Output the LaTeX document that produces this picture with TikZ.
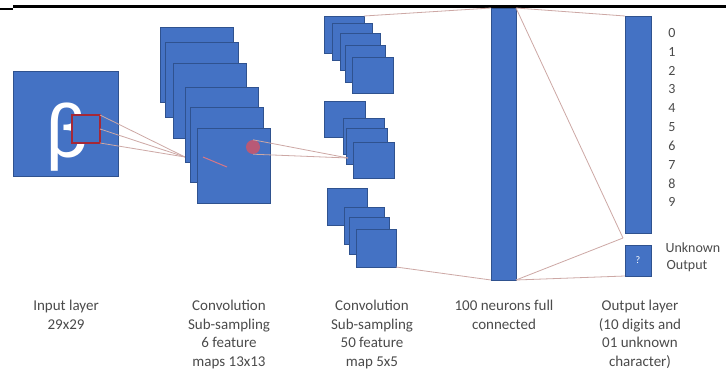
\documentclass[tikz,border=0pt]{standalone}
\usepackage{fontspec}
\setmainfont{Carlito}
\definecolor{mapblue}{RGB}{68,114,196}
\definecolor{mapedge}{RGB}{47,82,143}
\definecolor{fieldred}{RGB}{165,40,55}
\definecolor{dotred}{RGB}{205,85,105}
\definecolor{linkpink}{RGB}{205,168,165}
\definecolor{captext}{RGB}{75,75,75}
\tikzset{
  fmap/.style={draw=mapedge, fill=mapblue, line width=1pt, inner sep=0pt, outer sep=0pt, anchor=north west},
  link/.style={draw=linkpink, line width=0.8pt},
  caption/.style={font=\fontsize{15}{18.5}\selectfont, align=center, anchor=north, text=captext},
  digit/.style={font=\fontsize{14}{14}\selectfont, text=captext},
}

\begin{document}
\begin{tikzpicture}[x=1pt,y=-1pt]
    \clip (0,0) rectangle (726,370);
    \fill[white] (0,0) rectangle (726,370);

    % top rule
    \draw[line width=3pt] (13,6.5) -- (726,6.5);
    \draw[line width=1.5pt] (0,9) -- (13,9);

    % second convolution layer, three stacks
    \node[fmap, minimum width=40pt, minimum height=37pt] (l2a1) at (324,16) {};
    \node[fmap, minimum width=40pt, minimum height=37pt] (l2a2) at (332,23) {};
    \node[fmap, minimum width=40pt, minimum height=37pt] (l2a3) at (340,33) {};
    \node[fmap, minimum width=40pt, minimum height=37pt] (l2a4) at (345,45) {};
    \node[fmap, minimum width=41pt, minimum height=36pt] (l2a5) at (352,57) {};

    \node[fmap, minimum width=41pt, minimum height=36pt] (l2b1) at (324,101) {};
    \node[fmap, minimum width=41pt, minimum height=36pt] (l2b2) at (343,118) {};
    \node[fmap, minimum width=41pt, minimum height=36pt] (l2b3) at (346,128) {};
    \node[fmap, minimum width=41pt, minimum height=36pt] (l2b4) at (353,142) {};

    \node[fmap, minimum width=40pt, minimum height=37pt] (l2c1) at (327,188) {};
    \node[fmap, minimum width=40pt, minimum height=37pt] (l2c2) at (344,207) {};
    \node[fmap, minimum width=40pt, minimum height=37pt] (l2c3) at (349,217) {};
    \node[fmap, minimum width=40pt, minimum height=38pt] (l2c4) at (356,229) {};

    % full connected and output
    \node[fmap, minimum width=25pt, minimum height=272pt] (fc) at (491,8) {};
    \node[fmap, minimum width=26pt, minimum height=217pt] (out) at (625,16) {};
    \node[fmap, minimum width=26pt, minimum height=31pt, text=white,
          font=\fontsize{10}{10}\selectfont] (unk) at (625,245) {?};

    \coordinate (c1) at (185,157);
    \coordinate (c2) at (348,158);
    \coordinate (gap) at (623,238);

    \draw[link] (l2a1.north east) -- (fc.north west);
    \draw[link] (l2c4.south east) -- (fc.south west);
    \draw[link] (fc.north east) -- (out.north west);
    \draw[link] (fc.north east) -- (gap);
    \draw[link] (fc.south east) -- (gap);
    \draw[link] (fc.south east) -- (unk.south west);

    % input image and receptive field
    \node[fmap, minimum width=105pt, minimum height=105pt] (inp) at (13,71) {};
    \node[text=white, font=\fontsize{80}{80}\selectfont] (beta) at (67,137) {β};
    \node[fmap, draw=fieldred, line width=1.5pt, minimum width=28pt, minimum height=28pt] (field) at (72,115) {};
    \draw[link] (field.north east) -- (c1);
    \draw[link] (field.east) -- (c1);
    \draw[link] (field.south east) -- (c1);

    % first convolution layer
    \foreach \nm/\px/\py in {l1a/160/27, l1b/165/42, l1c/173/63, l1d/185/87, l1e/190/107, l1f/197/128}
        \node[fmap, minimum width=73pt, minimum height=75pt] (\nm) at (\px,\py) {};
    \draw[draw=dotred!80, line width=1pt] (203,157) -- (227,167);
    \node[circle, fill=dotred, opacity=0.85, minimum size=14pt, inner sep=0pt] (rdot) at (253,147) {};
    \draw[link] (rdot.north) -- (c2);
    \draw[link] (rdot.south) -- (c2);

    % digits and unknown output
    \foreach \d in {0,...,9}
        \node[digit] (dig\d) at (672,{33+18.8*\d}) {\d};
    \node[caption, font=\fontsize{14}{18.5}\selectfont, anchor=west] (unklab) at (662,248) {Unknown};
    \node[caption, font=\fontsize{14}{18.5}\selectfont] (outlab) at (687,257) {Output};

    % captions
    \node[caption] (capin) at (66,297) {Input layer\\29x29};
    \node[caption] (capc1) at (229,297) {Convolution\\Sub-sampling\\6 feature\\maps 13x13};
    \node[caption] (capc2) at (372,297) {Convolution\\Sub-sampling\\50 feature\\map 5x5};
    \node[caption] (capfc) at (504,297) {100 neurons full\\connected};
    \node[caption] (capout) at (640,297) {Output layer\\(10 digits and\\01 unknown\\character)};
\end{tikzpicture}
\end{document}
